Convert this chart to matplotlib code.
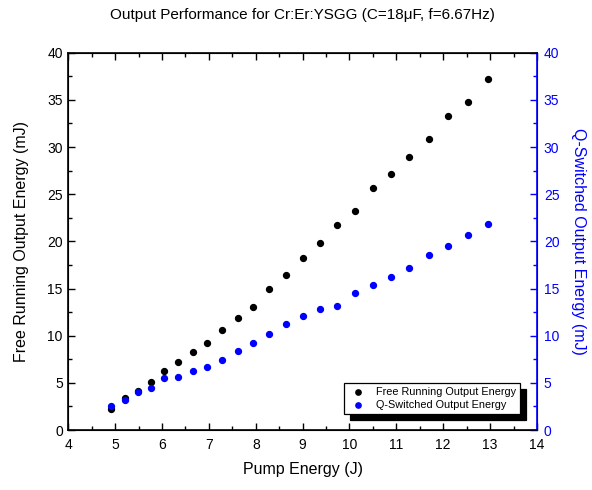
import matplotlib
matplotlib.use("Agg")
import matplotlib.pyplot as plt
from matplotlib.ticker import MultipleLocator

plt.rcParams['font.family'] = ['Liberation Sans', 'DejaVu Sans']

# Pump energy (J)
pump_energy = [4.92, 5.20, 5.48, 5.76, 6.05, 6.35, 6.65, 6.97, 7.29, 7.62, 7.94, 8.29,
               8.64, 9.00, 9.37, 9.73, 10.11, 10.50, 10.89, 11.28, 11.69, 12.10, 12.52, 12.96]
# Free running output energy (mJ)
free_running = [2.23, 3.43, 4.17, 5.09, 6.29, 7.17, 8.23, 9.26, 10.64, 11.84, 13.04, 14.98,
                16.47, 18.27, 19.79, 21.73, 23.22, 25.62, 27.14, 28.90, 30.88, 33.25, 34.77, 37.17]
# Q-switched output energy (mJ)
q_switched = [2.51, 3.14, 4.03, 4.49, 5.51, 5.65, 6.29, 6.71, 7.46, 8.37, 9.26, 10.18,
              11.20, 12.08, 12.86, 13.18, 14.52, 15.41, 16.18, 17.21, 18.59, 19.47, 20.67, 21.87]

blue = '#0000ff'

fig = plt.figure(figsize=(5.92, 4.9), dpi=100)
ax = fig.add_axes([0.1154, 0.1224, 0.7916, 0.7701])
ax2 = ax.twinx()

h1 = ax.scatter(pump_energy, free_running, s=18, color='black', zorder=3,
                label='Free Running Output Energy')
h2 = ax2.scatter(pump_energy, q_switched, s=18, color=blue, zorder=3,
                 label='Q-Switched Output Energy')

for a in (ax, ax2):
    a.set_xlim(4, 14)
    a.set_ylim(0, 40)
    a.yaxis.set_major_locator(MultipleLocator(5))
    a.yaxis.set_minor_locator(MultipleLocator(2.5))
ax.xaxis.set_major_locator(MultipleLocator(1))
ax.xaxis.set_minor_locator(MultipleLocator(0.5))

ax.tick_params(axis='x', which='both', direction='in', top=True, labelsize=10, width=1, pad=6)
ax.tick_params(axis='x', which='major', length=5)
ax.tick_params(axis='x', which='minor', length=3)
ax.tick_params(axis='y', which='both', direction='in', labelsize=10, width=1, pad=4)
ax.tick_params(axis='y', which='major', length=5)
ax.tick_params(axis='y', which='minor', length=3)
ax2.tick_params(axis='y', which='both', direction='in', labelsize=10, width=1,
                colors=blue, pad=5)
ax2.tick_params(axis='y', which='major', length=5)
ax2.tick_params(axis='y', which='minor', length=3)

for side in ('left', 'bottom', 'top'):
    ax2.spines[side].set_linewidth(1.2)
    ax2.spines[side].set_color('black')
ax2.spines['right'].set_color(blue)
ax2.spines['right'].set_linewidth(1.2)

ax.set_xlabel('Pump Energy (J)', fontsize=11.5, labelpad=7)
ax.set_ylabel('Free Running Output Energy (mJ)', fontsize=11.5, labelpad=13)
ax2.set_ylabel('Q-Switched Output Energy (mJ)', fontsize=11.5, color=blue,
               rotation=270, labelpad=19)
ax.set_title('Output Performance for Cr:Er:YSGG (C=18\u03bcF, f=6.67Hz)',
             fontsize=11, pad=24)

leg = ax2.legend(handles=[h1, h2], loc='lower right', bbox_to_anchor=(0.963, 0.043),
                 fontsize=7.8, frameon=True, fancybox=False, edgecolor='black',
                 framealpha=1, borderpad=0.35, handletextpad=0.6, labelspacing=0.3,
                 markerscale=0.9, borderaxespad=0,
                 shadow={'ox': 4.5, 'oy': -4.5, 'color': 'black', 'alpha': 1})
leg.get_frame().set_linewidth(0.9)

fig.savefig('out.png', dpi=100)
